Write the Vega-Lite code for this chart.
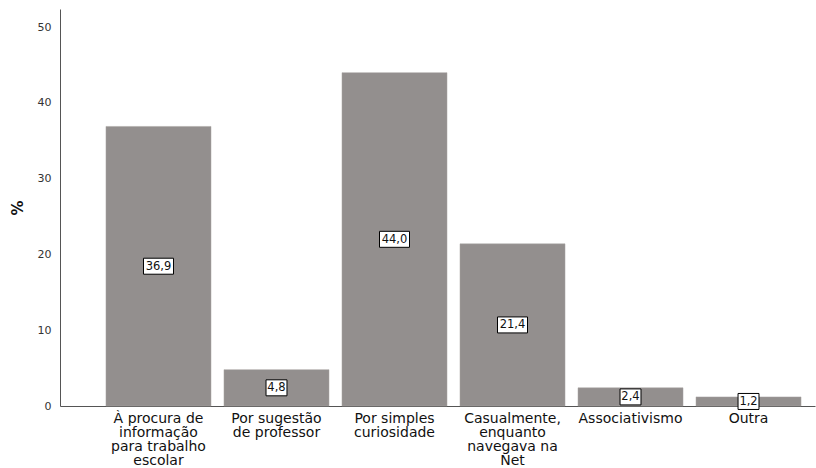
{
  "$schema": "https://vega.github.io/schema/vega-lite/v6.json",
  "width": 755,
  "height": 397,
  "autosize": "none",
  "padding": {"left": 60, "top": 9, "right": 1, "bottom": 62},
  "background": "white",
  "config": {"view": {"stroke": null}, "font": "DejaVu Sans"},
  "data": {
    "values": [
      {"category": "À procura de|informação|para trabalho|escolar", "value": 36.9, "label": "36,9"},
      {"category": "Por sugestão|de professor", "value": 4.8, "label": "4,8"},
      {"category": "Por simples|curiosidade", "value": 44.0, "label": "44,0"},
      {"category": "Casualmente,|enquanto|navegava na|Net", "value": 21.4, "label": "21,4"},
      {"category": "Associativismo", "value": 2.4, "label": "2,4"},
      {"category": "Outra", "value": 1.2, "label": "1,2"}
    ]
  },
  "encoding": {
    "x": {
      "field": "category",
      "type": "nominal",
      "sort": null,
      "scale": {"paddingInner": 0.11, "paddingOuter": 0.254, "align": 0.767},
      "axis": {
        "title": null,
        "labelAngle": 0,
        "labelExpr": "split(datum.label, '|')",
        "labelFontSize": 14,
        "labelColor": "#111111",
        "labelLineHeight": 14,
        "labelPadding": 5,
        "ticks": false,
        "domainColor": "#555555",
        "labelBaseline": "top"
      }
    }
  },
  "layer": [
    {
      "mark": {"type": "bar", "color": "#938f8e", "stroke": "#a8a4a3", "strokeWidth": 0.5},
      "encoding": {
        "y": {
          "field": "value",
          "type": "quantitative",
          "scale": {"domain": [0, 52.4], "nice": false},
          "axis": {
            "title": "%",
            "titleFontSize": 15,
            "titleFontWeight": "bold",
            "titleColor": "#111111",
            "titlePadding": 12,
            "values": [0, 10, 20, 30, 40, 50],
            "grid": false,
            "ticks": false,
            "labelFontSize": 11,
            "labelColor": "#333333",
            "labelPadding": 9,
            "domainColor": "#555555"
          }
        }
      }
    },
    {
      "transform": [{"calculate": "datum.value / 2", "as": "mid"}],
      "mark": {"type": "point", "filled": true, "fill": "white", "stroke": "black", "strokeWidth": 1, "opacity": 1, "size": 256},
      "encoding": {
        "y": {"field": "mid", "type": "quantitative"},
        "shape": {
          "condition": {"test": "datum.value >= 10", "value": "M-1.875,-1H1.875V1H-1.875Z"},
          "value": "M-1.31,-1H1.31V1H-1.31Z"
        }
      }
    },
    {
      "transform": [{"calculate": "datum.value / 2", "as": "mid"}],
      "mark": {"type": "text", "fontSize": 11.5, "color": "#111111", "baseline": "middle", "dy": 0.5},
      "encoding": {
        "y": {"field": "mid", "type": "quantitative"},
        "text": {"field": "label"}
      }
    }
  ]
}
